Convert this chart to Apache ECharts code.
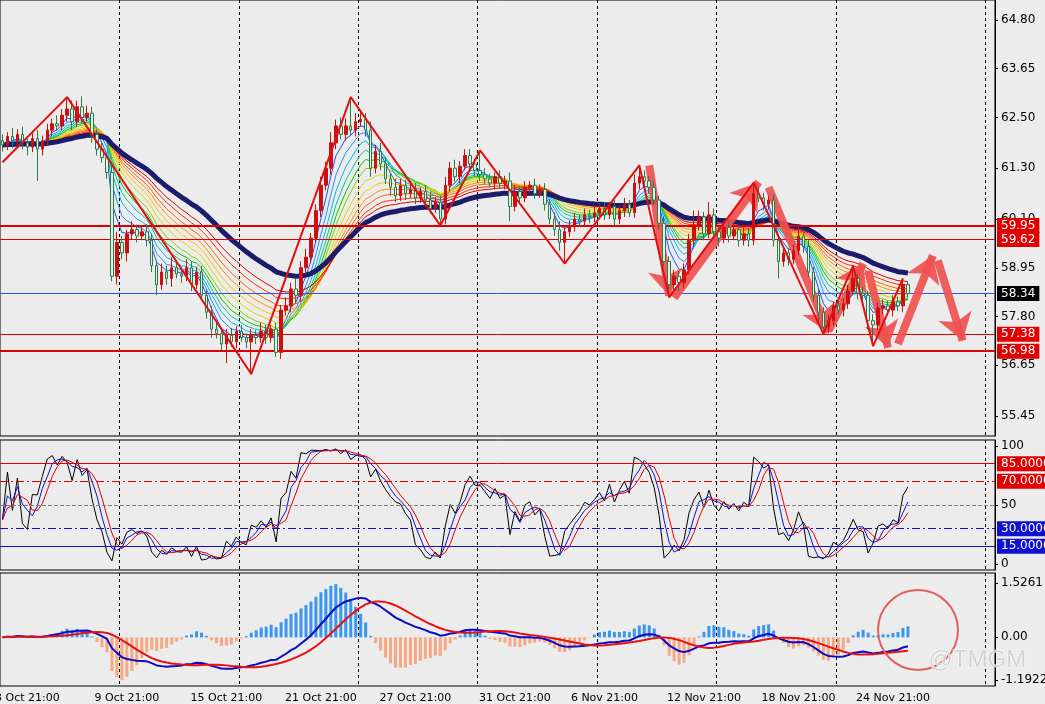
<!DOCTYPE html>
<html><head><meta charset="utf-8">
<script src="https://cdn.jsdelivr.net/npm/echarts@6/dist/echarts.min.js"></script>
<style>html,body{margin:0;padding:0;background:#ececec}#c{width:1045px;height:704px}</style>
</head><body><div id="c"></div>
<script>
const closes = [
61.85,62.05,61.95,62.10,61.90,61.80,62.00,61.75,61.95,62.20,
62.35,62.30,62.55,62.70,62.40,62.75,62.50,62.60,62.10,61.75,
61.55,61.20,58.75,59.55,59.30,59.75,59.85,59.70,59.80,59.60,
59.00,58.55,58.85,58.70,58.95,58.80,58.75,58.95,58.55,58.85,
58.30,57.90,57.50,57.40,57.15,57.35,57.20,57.45,57.30,57.20,
57.35,57.30,57.45,57.30,57.50,56.95,57.95,58.05,58.45,58.30,
58.95,59.20,59.65,60.30,60.90,61.30,61.90,62.30,62.10,62.30,
62.20,62.40,62.45,62.20,61.30,61.70,61.40,61.05,60.85,60.65,
60.90,60.70,60.80,60.60,60.75,60.55,60.35,60.50,60.10,60.90,
61.30,61.10,61.35,61.60,61.40,61.25,61.15,61.05,60.95,61.10,
60.95,61.00,60.40,60.75,60.60,60.85,60.90,60.70,60.80,60.45,
60.10,59.85,59.55,59.80,59.95,60.10,60.05,60.20,60.15,60.25,
60.35,60.20,60.40,60.10,60.30,60.45,60.25,60.95,61.10,61.00,
60.85,60.55,60.00,59.10,58.55,58.75,58.60,58.90,59.60,59.95,
60.15,59.75,60.20,59.80,59.65,59.90,59.70,59.85,59.60,59.75,
59.60,60.70,60.60,60.45,60.55,59.60,59.10,59.30,59.15,59.35,
59.70,59.45,58.85,58.30,57.90,57.55,57.70,58.05,57.95,58.10,
58.40,58.70,58.35,58.30,57.70,57.60,58.00,58.05,57.95,58.15,
58.05,58.55,58.34];
const firstOpen = 61.95;
const upperWicks = [
.15,.1,.2,.12,.18,.1,.15,.2,.12,.15, .12,.2,.15,.28,.2,.15,.25,.18,.15,.12,
.15,.12,.2,.25,.15,.1,.2,.12,.15,.18, .15,.12,.2,.15,.25,.12,.15,.2,.15,.12,
.15,.12,.15,.2,.12,.15,.18,.12,.15,.1, .15,.12,.2,.15,.1,.15,.12,.2,.15,.25,
.15,.2,.12,.15,.2,.15,.25,.15,.2,.18, .6,.2,.18,.15,.2,.15,.2,.15,.12,.2,
.15,.12,.2,.15,.1,.15,.2,.12,.15,.2, .15,.2,.12,.15,.15,.12,.47,.15,.12,.1,
.15,.12,.2,.15,.12,.15,.1,.15,.12,.15, .12,.15,.2,.15,.12,.15,.1,.15,.12,.15,
.12,.15,.1,.15,.12,.15,.1,.2,.27,.15, .12,.15,.1,.15,.12,.15,.12,.15,.15,.35,
.15,.12,.3,.15,.12,.15,.12,.15,.12,.15, .12,.26,.15,.12,.1,.15,.12,.15,.12,.15,
.2,.12,.15,.12,.15,.12,.15,.1,.15,.12, .15,.3,.12,.15,.1,.15,.12,.15,.12,.15,
.12,.15,.08];
const lowerWicks = [
.15,.12,.18,.1,.15,.2,.12,.75,.15,.12, .15,.12,.1,.15,.2,.12,.15,.1,.2,.15,
.12,.15,.12,.2,.15,.2,.12,.15,.1,.15, .15,.25,.12,.15,.2,.1,.15,.12,.15,.1,
.12,.15,.2,.12,.15,.45,.12,.15,.1,.15, .76,.15,.12,.15,.12,.1,.15,.12,.15,.2,
.15,.12,.15,.1,.15,.12,.15,.15,.12,.15, .12,.15,.12,.15,.2,.12,.15,.12,.2,.15,
.12,.15,.1,.15,.12,.15,.12,.1,.15,.12, .15,.12,.15,.1,.15,.12,.15,.12,.1,.15,
.12,.15,.35,.12,.15,.1,.15,.12,.1,.15, .12,.15,.2,.5,.12,.15,.12,.1,.15,.12,
.15,.12,.1,.15,.12,.15,.1,.12,.15,.12, .15,.12,.15,.12,.3,.15,.2,.12,.1,.15,
.12,.15,.1,.15,.2,.12,.15,.1,.15,.12, .15,.12,.1,.15,.12,.15,.4,.12,.15,.12,
.1,.15,.12,.15,.2,.16,.15,.12,.1,.15, .12,.1,.15,.12,.2,.5,.12,.15,.12,.15,
.12,.15,.1];
const zigzagIdx   = [0, 13, 50, 70, 88, 96, 113, 128, 134, 151, 165, 171, 175, 181];
const zigzagPrice = [61.44, 62.98, 56.44, 62.98, 59.95, 61.72, 59.05, 61.37, 58.25, 60.96, 57.39, 59.00, 57.10, 58.70];
const arrows = [
 [[130,61.37],[134,58.29]], [[135,58.24],[152,60.97]], [[154,60.85],[166,57.42]],
 [[166,57.46],[173,59.05]], [[174,58.88],[178,57.06]], [[180,57.15],[187,59.24]],
 [[188,59.12],[193,57.23]]];
const levels = [
 {v:59.95,c:'#e00000',w:2,bg:'#e00000'}, {v:59.62,c:'#e00000',w:1,bg:'#e00000'},
 {v:58.34,c:'#3050ff',w:1,bg:'#000000'}, {v:57.38,c:'#e00000',w:1,bg:'#e00000'},
 {v:56.98,c:'#e00000',w:2,bg:'#e00000'}];
const priceTicks = [64.80,63.65,62.50,61.30,60.10,58.95,57.80,56.65,55.45];
const dateLabelIdx = [5,25,45,64,83,103,121,141,160,179];
const dateLabels = ['3 Oct 21:00','9 Oct 21:00','15 Oct 21:00','21 Oct 21:00','27 Oct 21:00','31 Oct 21:00','6 Nov 21:00','12 Nov 21:00','18 Nov 21:00','24 Nov 21:00'];
const stochTicks = [100,50,0];
const macdTicks = [1.5261,0.00,-1.1922];
const ribbonPeriods = [4,6,8,10,12,14,17,20,23,26,30,34];
const ribbonColors = ['#2050ff','#1e90ff','#00b8f0','#00c8a0','#00c800','#80d000','#d8d800','#ffc000','#ff9000','#ff6000','#ff3000','#d80000'];
const slowPeriod = 45;

const N = 200;
const opens = closes.map((c,i)=> i===0 ? firstOpen : closes[i-1]);
const highs = closes.map((c,i)=> Math.max(c,opens[i]) + upperWicks[i]);
const lows  = closes.map((c,i)=> Math.min(c,opens[i]) - lowerWicks[i]);
const candles = closes.map((c,i)=>[opens[i],c,lows[i],highs[i]]);
function ema(src,p){const k=2/(p+1);let r=[],v=src[0];src.forEach((x,i)=>{v=i?x*k+v*(1-k):x;r.push(+v.toFixed(4));});return r;}
function sma(src,p){return src.map((x,i)=>{let s=0,c=0;for(let j=Math.max(0,i-p+1);j<=i;j++){s+=src[j];c++;}return s/c;});}
const cats = Array.from({length:N},(_,i)=>i);
const stK = closes.map((c,i)=>{let lo=1e9,hi=-1e9;for(let j=Math.max(0,i-19);j<=i;j++){lo=Math.min(lo,lows[j]);hi=Math.max(hi,highs[j]);}return hi>lo?100*(c-lo)/(hi-lo):50;});
const stBlack = stK, stBlue = sma(stK,3), stRed = sma(stBlue,3);
const e12 = ema(closes,12), e26 = ema(closes,26);
const macd = e12.map((v,i)=>v-e26[i]);
const signal = sma(macd,9);
const hist = macd.map((v,i)=>+(2.5*(v-signal[i])).toFixed(4));

const zz = new Array(N).fill(null);
zigzagIdx.forEach((ix,k)=>zz[ix]=zigzagPrice[k]);

const font = 'DejaVu Sans';
const series = [];
ribbonPeriods.forEach((p,k)=>series.push({type:'line',data:ema(closes,p),showSymbol:false,silent:true,lineStyle:{width:1,color:ribbonColors[k]},z:2}));
series.push({type:'line',data:ema(closes,slowPeriod),showSymbol:false,lineStyle:{width:5,color:'#1c1c6c'},z:4});
series.push({type:'candlestick',data:candles,barWidth:3,z:5,
 itemStyle:{color:'#cc1010',borderColor:'#cc1010',color0:'#e4f0e4',borderColor0:'#2a7a4a',borderWidth:1},
 markLine:{symbol:'none',silent:true,animation:false,data:levels.map(l=>({yAxis:l.v,lineStyle:{color:l.c,width:l.w,type:'solid'},
   label:{show:true,position:'end',formatter:l.v.toFixed(2),color:'#fff',backgroundColor:l.bg,fontFamily:font,fontSize:12,padding:[2,4,1,4],distance:2}}))}});
series.push({type:'line',data:zz,connectNulls:true,showSymbol:false,lineStyle:{width:2,color:'#e01010'},z:6,
 markLine:{silent:true,animation:false,symbol:['none','arrow'],symbolSize:[26,26],
  lineStyle:{color:'rgba(240,80,80,0.92)',width:8,type:'solid'},label:{show:false},
  data:arrows.map(a=>[{coord:a[0]},{coord:a[1]}])}});
const stLevels=[{v:85,c:'#e00000',t:'solid',bg:'#e00000'},{v:70,c:'#e00000',t:[8,3,2,3],bg:'#e00000'},{v:50,c:'#808080',t:'dashed',bg:null},{v:30,c:'#1010c0',t:[8,3,2,3],bg:'#1010d0'},{v:15,c:'#1010c0',t:'solid',bg:'#1010d0'}];
series.push({type:'line',xAxisIndex:1,yAxisIndex:1,data:stBlack,showSymbol:false,lineStyle:{width:1,color:'#000'},
 markLine:{symbol:'none',silent:true,animation:false,data:stLevels.map(l=>({yAxis:l.v,lineStyle:{color:l.c,width:1,type:l.t},
  label:{show:!!l.bg,position:'end',formatter:l.v.toFixed(4),color:'#fff',backgroundColor:l.bg||'transparent',fontFamily:font,fontSize:12,padding:[2,4,1,4],distance:2}}))}});
series.push({type:'line',xAxisIndex:1,yAxisIndex:1,data:stBlue,showSymbol:false,lineStyle:{width:1,color:'#1010d0'}});
series.push({type:'line',xAxisIndex:1,yAxisIndex:1,data:stRed,showSymbol:false,lineStyle:{width:1,color:'#e00000'}});
series.push({type:'bar',xAxisIndex:2,yAxisIndex:2,data:hist.map(v=>({value:v,itemStyle:{color:v>=0?'#3a96ee':'#f6a882'}})),barWidth:3});
series.push({type:'line',xAxisIndex:2,yAxisIndex:2,data:macd,showSymbol:false,lineStyle:{width:2,color:'#0a0ac8'}});
series.push({type:'line',xAxisIndex:2,yAxisIndex:2,data:signal,showSymbol:false,lineStyle:{width:2,color:'#e81010'}});

function xa(g,showLabels){return {type:'category',gridIndex:g,data:cats,boundaryGap:true,
 axisLine:{show:false},axisTick:{show:false},
 axisLabel:{show:showLabels,interval:(i)=>dateLabelIdx.includes(i),formatter:(v)=>{const k=dateLabelIdx.indexOf(+v);return k>=0?dateLabels[k]:'';},color:'#000',fontFamily:font,fontSize:11,margin:7},
 splitLine:{show:true,interval:(i)=>(i>0&&i%24===0&&i<180)||i===198,lineStyle:{color:'#000',type:[3,3],width:1}}};}
function ya(g,min,max,ticks,fmt){return {type:'value',gridIndex:g,position:'right',min:min,max:max,scale:true,
 axisLine:{show:true,lineStyle:{color:'#000'}},axisTick:{show:true,customValues:ticks,length:3,lineStyle:{color:'#000'}},
 axisLabel:{customValues:ticks,formatter:fmt,color:'#000',fontFamily:font,fontSize:12,margin:6},splitLine:{show:false}};}
const gridBase = {left:0,right:50,show:true,borderColor:'#000',borderWidth:1,containLabel:false,outerBoundsMode:'none'};

const chart = echarts.init(document.getElementById('c'));
chart.setOption({animation:false,backgroundColor:'#ececec',
 grid:[Object.assign({top:0,height:436},gridBase),Object.assign({top:440,height:130},gridBase),Object.assign({top:573,height:113},gridBase)],
 xAxis:[xa(0,false),xa(1,false),xa(2,true)],
 yAxis:[ya(0,54.977,65.273,priceTicks,v=>v.toFixed(2)),ya(1,-5,105,stochTicks,v=>String(v)),ya(2,-1.36,1.80,macdTicks,v=>v===0?'0.00':v.toFixed(4))],
 series:series,
 graphic:[{type:'circle',shape:{cx:918,cy:630,r:40},style:{fill:'none',stroke:'#e06060',lineWidth:2},z:100},
  {type:'text',left:928,top:648,style:{text:'@TMGM',font:'24px "Liberation Sans"',fill:'rgba(205,205,205,0.85)',stroke:'rgba(255,255,255,0.9)',lineWidth:1},z:100}]
});
</script></body></html>
